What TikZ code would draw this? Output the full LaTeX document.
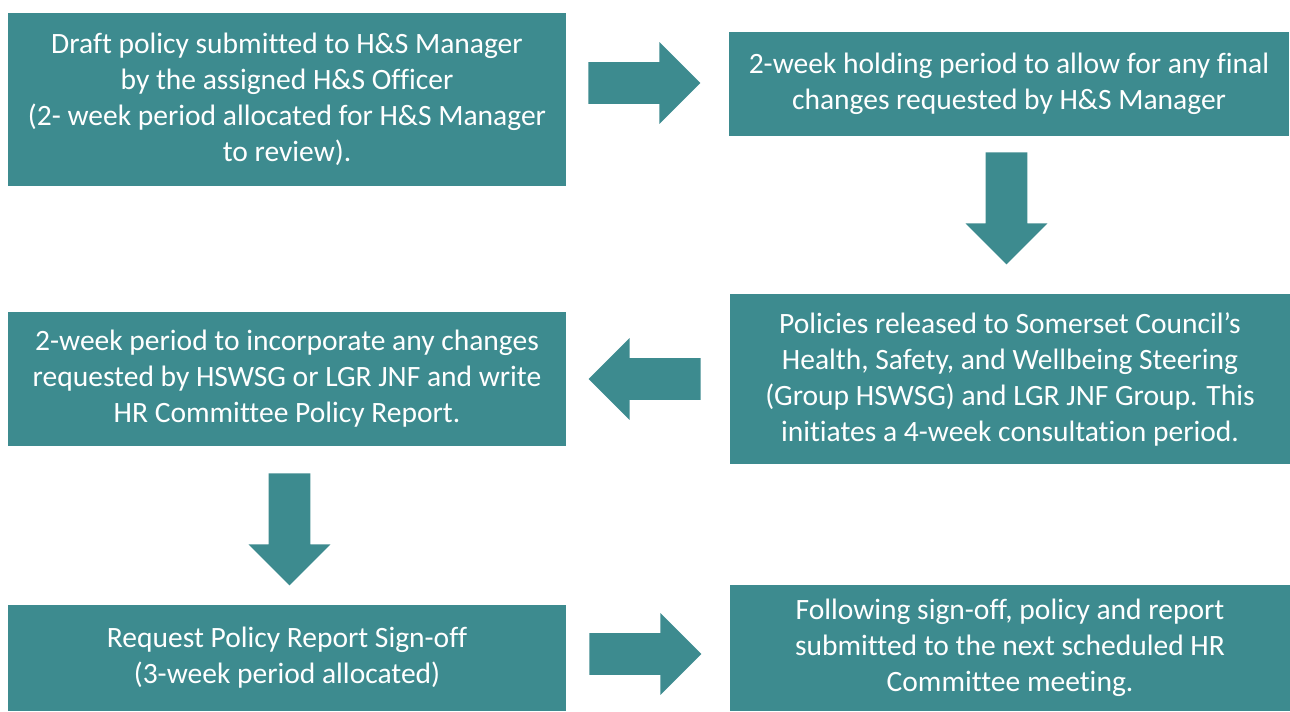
\documentclass[tikz,border=0pt]{standalone}
\usepackage{fontspec}
\setmainfont{Carlito}[Ligatures=NoCommon]
\usetikzlibrary{shapes.arrows}
\definecolor{stepteal}{RGB}{61,139,143}

\begin{document}
\begin{tikzpicture}[x=0.02cm,y=-0.02cm,
  box/.style={fill=stepteal,text=white,align=center,inner sep=0pt,
    font=\fontsize{16.8}{20.5}\selectfont},
  fat/.style={single arrow,fill=stepteal,inner xsep=0pt,inner ysep=0.41cm,
    single arrow head extend=0.4cm,single arrow head indent=0pt,minimum height=2.24cm,
    anchor=tail},
  fatdown/.style={fat,shape border rotate=270,inner xsep=0.41cm,inner ysep=0pt}]
  \useasboundingbox (0,0) rectangle (1290,711);

  \node[box,minimum width=11.16cm,minimum height=3.46cm] (draft) at (287,99.5)
    {Draft policy submitted to H\&S Manager\\ by the assigned H\&S Officer\\
     (2- week period allocated for H\&S Manager\\ to review).};
  \node[box,minimum width=11.2cm,minimum height=2.08cm] (hold) at (1009,84)
    {2-week holding period to allow for any final\\ changes requested by H\&S Manager};
  \node[box,minimum width=11.2cm,minimum height=3.4cm] (release) at (1010,379)
    {Policies released to Somerset Council’s\\ Health, Safety, and Wellbeing Steering\\
     (Group HSWSG) and LGR JNF Group. This\\ initiates a 4-week consultation period.};
  \node[box,minimum width=11.16cm,minimum height=2.68cm] (changes) at (287,379)
    {2-week period to incorporate any changes\\ requested by HSWSG or LGR JNF and write\\
     HR Committee Policy Report.};
  \node[box,minimum width=11.16cm,minimum height=2.12cm] (signoff) at (287,658)
    {Request Policy Report Sign-off\\ (3-week period allocated)};
  \node[box,minimum width=11.2cm,minimum height=2.52cm] (meeting) at (1010,648)
    {Following sign-off, policy and report\\ submitted to the next scheduled HR\\
     Committee meeting.};

  % block arrows between the steps, placed by their tails
  \node[fat] (a1) at (588,83) {};
  \node[fatdown] (a2) at (1006.5,152) {};
  \node[fat,shape border rotate=180] (a3) at (701,379) {};
  \node[fatdown] (a4) at (289.5,473) {};
  \node[fat] (a5) at (589,654) {};
\end{tikzpicture}
\end{document}
